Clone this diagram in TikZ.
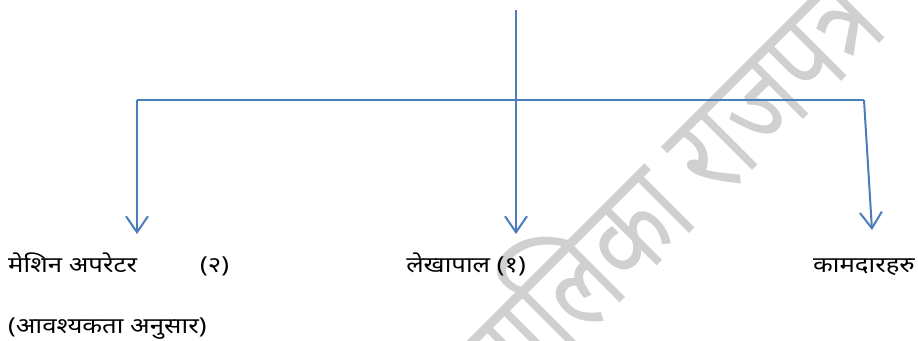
\documentclass[tikz,border=0pt]{standalone}
\usepackage{fontspec}
\newfontfamily\deva[Script=Devanagari]{Noto Sans}
\usetikzlibrary{arrows.meta}
\definecolor{linkblue}{HTML}{4A7EBB}
\definecolor{wmgray}{HTML}{D0D0D0}
\tikzset{
  conn/.style={draw=linkblue, line width=2pt, -{Straight Barb[length=16pt,width=22pt]}},
  plain/.style={draw=linkblue, line width=2pt},
  lbl/.style={font=\deva\fontsize{22}{26}\selectfont, inner sep=0pt, anchor=base west, xscale=1.17},
  wm/.style={font=\deva\fontsize{130}{140}\selectfont, text=wmgray, inner sep=0pt, anchor=base east, rotate=45, xscale=0.74}
}
\begin{document}
\begin{tikzpicture}[x=1pt,y=-1pt]
\useasboundingbox (0,0) rectangle (918,340);
\begin{scope}
\clip (0,0) rectangle (918,340);
\node[wm] (water) at (891,32) {नगरपालिका राजपत्र};
\end{scope}
\coordinate (top) at (516,10);
\coordinate (jl) at (137,100);
\coordinate (jr) at (864,100);
\coordinate (tipl) at (137,234);
\coordinate (tipm) at (516,234);
\coordinate (tipr) at (872,230);
\node[lbl] (mesin) at (8,272) {मेशिन अपरेटर};
\node[lbl] (two) at (200,272) {(२)};
\node[lbl, anchor=base] (lekha) at (466,272) {लेखापाल (१)};
\node[lbl, anchor=base] (kamdar) at (864,272) {कामदारहरु};
\node[lbl] (need) at (8,333) {(आवश्यकता अनुसार)};
\draw[plain] (jl) -- (jr);
\draw[conn] (top) -- (tipm);
\draw[conn] (jl) -- (tipl);
\draw[conn] (jr) -- (tipr);
\end{tikzpicture}
\end{document}
